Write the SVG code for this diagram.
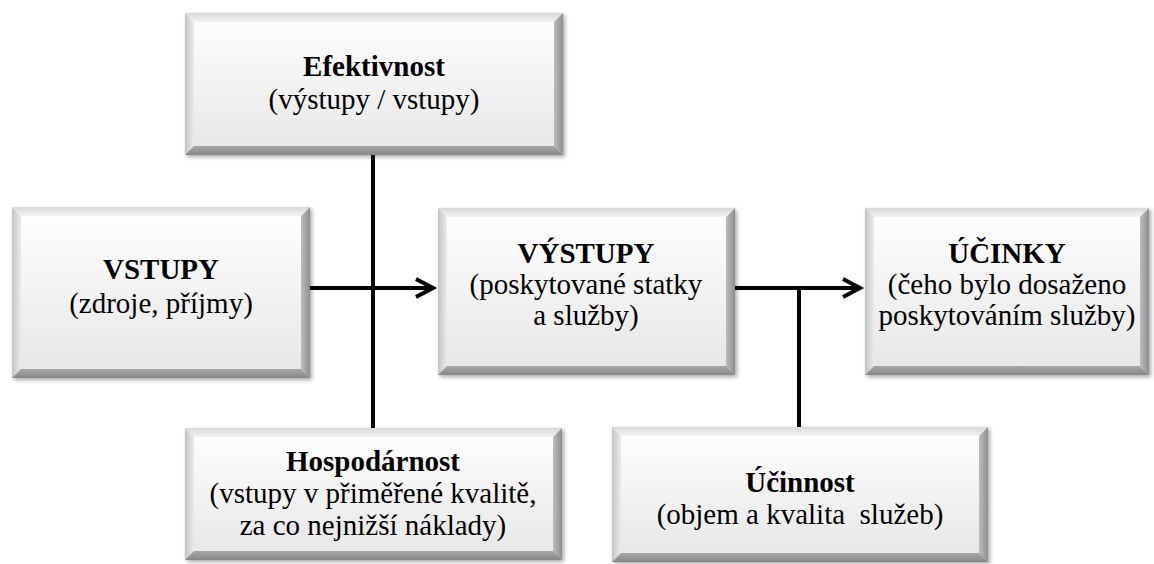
<svg xmlns="http://www.w3.org/2000/svg" width="1154" height="564" viewBox="0 0 1154 564">
<defs>
<linearGradient id="gFace" x1="0" y1="0" x2="0" y2="1"><stop offset="0" stop-color="#ffffff"/><stop offset="1" stop-color="#e6e6e6"/></linearGradient>
<linearGradient id="gTop" x1="0" y1="0" x2="0" y2="1"><stop offset="0" stop-color="#d9d9d9"/><stop offset="1" stop-color="#f3f3f3"/></linearGradient>
<linearGradient id="gLeft" x1="0" y1="0" x2="1" y2="0"><stop offset="0" stop-color="#c4c4c4"/><stop offset="1" stop-color="#ebebeb"/></linearGradient>
<linearGradient id="gRight" x1="0" y1="0" x2="1" y2="0"><stop offset="0" stop-color="#bdbdbd"/><stop offset="1" stop-color="#8e8e8e"/></linearGradient>
<linearGradient id="gBottom" x1="0" y1="0" x2="0" y2="1"><stop offset="0" stop-color="#a8a8a8"/><stop offset="1" stop-color="#878787"/></linearGradient>
<filter id="shadow" x="-5%" y="-5%" width="115%" height="120%"><feGaussianBlur in="SourceAlpha" stdDeviation="2"/><feOffset dx="2" dy="2"/><feComponentTransfer><feFuncA type="linear" slope="0.35"/></feComponentTransfer><feMerge><feMergeNode/><feMergeNode in="SourceGraphic"/></feMerge></filter>
<marker id="arrow" markerUnits="userSpaceOnUse" viewBox="-25 -15 32 30" markerWidth="32" markerHeight="30" refX="0" refY="0" orient="auto">
<path d="M-17,-9 L0,0 L-17,9" fill="none" stroke="#000" stroke-width="4"/>
</marker>
</defs>
<style>
text{font-family:"Liberation Serif","Times New Roman",serif;font-size:29px;text-anchor:middle;fill:#000}
.t{font-weight:bold}
.face{fill:url(#gFace)}
.bt{fill:url(#gTop)}
.bl{fill:url(#gLeft)}
.br{fill:url(#gRight)}
.bb{fill:url(#gBottom)}
.box{filter:url(#shadow)}
.conn{stroke:#000;stroke-width:4;fill:none}
</style>
<rect width="1154" height="564" fill="#ffffff"/>

<g id="connectors">
<line class="conn" x1="373" y1="155" x2="373" y2="428"/>
<line class="conn" x1="310" y1="288" x2="433" y2="288" marker-end="url(#arrow)"/>
<line class="conn" x1="735" y1="288" x2="860" y2="288" marker-end="url(#arrow)"/>
<line class="conn" x1="799" y1="286" x2="799" y2="427"/>
</g>

<g id="efektivnost">
<g class="box">
<rect class="face" x="185" y="13" width="378" height="142"/>
<polygon class="bt" points="185,13 563,13 554,22 194,22"/>
<polygon class="bl" points="185,13 194,22 194,146 185,155"/>
<polygon class="br" points="563,13 563,155 554,146 554,22"/>
<polygon class="bb" points="185,155 194,146 554,146 563,155"/>
</g>
<text class="t" font-family="Liberation Serif" x="374" y="76">Efektivnost</text>
<text font-family="Liberation Serif" x="374" y="109">(výstupy / vstupy)</text>
</g>

<g id="vstupy">
<g class="box">
<rect class="face" x="12" y="207" width="298" height="171"/>
<polygon class="bt" points="12,207 310,207 301,216 21,216"/>
<polygon class="bl" points="12,207 21,216 21,369 12,378"/>
<polygon class="br" points="310,207 310,378 301,369 301,216"/>
<polygon class="bb" points="12,378 21,369 301,369 310,378"/>
</g>
<text class="t" font-family="Liberation Serif" x="161" y="279">VSTUPY</text>
<text font-family="Liberation Serif" x="161" y="313">(zdroje, příjmy)</text>
</g>

<g id="vystupy">
<g class="box">
<rect class="face" x="438" y="208" width="297" height="167"/>
<polygon class="bt" points="438,208 735,208 726,217 447,217"/>
<polygon class="bl" points="438,208 447,217 447,366 438,375"/>
<polygon class="br" points="735,208 735,375 726,366 726,217"/>
<polygon class="bb" points="438,375 447,366 726,366 735,375"/>
</g>
<text class="t" font-family="Liberation Serif" x="586" y="263">VÝSTUPY</text>
<text font-family="Liberation Serif" x="586" y="294">(poskytované statky</text>
<text font-family="Liberation Serif" x="586" y="325">a služby)</text>
</g>

<g id="ucinky">
<g class="box">
<rect class="face" x="865" y="208" width="284" height="167"/>
<polygon class="bt" points="865,208 1149,208 1140,217 874,217"/>
<polygon class="bl" points="865,208 874,217 874,366 865,375"/>
<polygon class="br" points="1149,208 1149,375 1140,366 1140,217"/>
<polygon class="bb" points="865,375 874,366 1140,366 1149,375"/>
</g>
<text class="t" font-family="Liberation Serif" x="1007" y="263">ÚČINKY</text>
<text font-family="Liberation Serif" x="1007" y="294">(čeho bylo dosaženo</text>
<text font-family="Liberation Serif" x="1007" y="325">poskytováním služby)</text>
</g>

<g id="hospodarnost">
<g class="box">
<rect class="face" x="185" y="428" width="377" height="132"/>
<polygon class="bt" points="185,428 562,428 553,437 194,437"/>
<polygon class="bl" points="185,428 194,437 194,551 185,560"/>
<polygon class="br" points="562,428 562,560 553,551 553,437"/>
<polygon class="bb" points="185,560 194,551 553,551 562,560"/>
</g>
<text class="t" font-family="Liberation Serif" x="373" y="471">Hospodárnost</text>
<text font-family="Liberation Serif" x="373" y="503">(vstupy v přiměřené kvalitě,</text>
<text font-family="Liberation Serif" x="373" y="535">za co nejnižší náklady)</text>
</g>

<g id="ucinnost">
<g class="box">
<rect class="face" x="612" y="427" width="376" height="135"/>
<polygon class="bt" points="612,427 988,427 979,436 621,436"/>
<polygon class="bl" points="612,427 621,436 621,553 612,562"/>
<polygon class="br" points="988,427 988,562 979,553 979,436"/>
<polygon class="bb" points="612,562 621,553 979,553 988,562"/>
</g>
<text class="t" font-family="Liberation Serif" x="800" y="492">Účinnost</text>
<text font-family="Liberation Serif" x="800" y="524" xml:space="preserve">(objem a kvalita  služeb)</text>
</g>
</svg>
